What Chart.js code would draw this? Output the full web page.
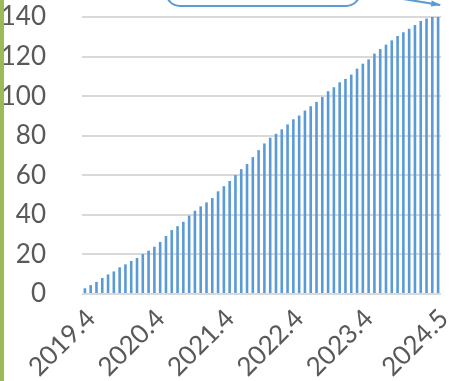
<!DOCTYPE html>
<html>
<head>
<meta charset="utf-8">
<script src="https://cdn.jsdelivr.net/npm/chart.js@4.4.1/dist/chart.umd.min.js"></script>
<style>
  html, body { margin: 0; padding: 0; background: #ffffff; overflow: hidden; }
  #wrap { width: 452px; height: 381px; position: relative; }
</style>
</head>
<body>
<div id="wrap"><canvas id="c" width="452" height="381"></canvas></div>
<script>
// Monthly categories, April 2019 to May 2024
const months = [
  "2019.4","2019.5","2019.6","2019.7","2019.8","2019.9","2019.10","2019.11","2019.12",
  "2020.1","2020.2","2020.3","2020.4","2020.5","2020.6","2020.7","2020.8","2020.9","2020.10","2020.11","2020.12",
  "2021.1","2021.2","2021.3","2021.4","2021.5","2021.6","2021.7","2021.8","2021.9","2021.10","2021.11","2021.12",
  "2022.1","2022.2","2022.3","2022.4","2022.5","2022.6","2022.7","2022.8","2022.9","2022.10","2022.11","2022.12",
  "2023.1","2023.2","2023.3","2023.4","2023.5","2023.6","2023.7","2023.8","2023.9","2023.10","2023.11","2023.12",
  "2024.1","2024.2","2024.3","2024.4","2024.5"
];

// Cumulative monthly totals
const counts = [
  2.9, 4.5, 6.1, 8.1, 9.9, 11.4, 13.5, 15.0, 16.7, 18.2,
  20.2, 21.9, 23.9, 26.3, 29.3, 32.3, 34.3, 36.5, 39.6, 42.1,
  44.3, 46.3, 48.5, 51.9, 54.5, 57.1, 60.1, 63.1, 65.7, 69.2,
  72.7, 76.1, 79.0, 81.0, 83.2, 85.7, 88.3, 90.2, 92.7, 94.9,
  97.1, 99.6, 102.5, 104.5, 107.0, 108.7, 110.9, 113.9, 116.4, 118.6,
  121.5, 123.8, 126.0, 128.2, 130.4, 132.3, 134.1, 136.0, 138.0, 139.2,
  140, 141
];

// Category labels printed under the axis
const shownLabels = ["2019.4", "2020.4", "2021.4", "2022.4", "2023.4", "2024.5"];

// Value axis range
const yMin = 0, yMax = 140, yStep = 20;

const BLUE = "#5B9BD5";
const TEXT = "#595959";
const FONT = { family: "Lato", size: 26 };

// Frame pieces: green edge strip, callout box and pointer arrow
const frame = {
  id: "frame",
  afterDraw(chart) {
    const ctx = chart.ctx;
    const area = chart.chartArea;
    const xs = chart.scales.x, ys = chart.scales.y;
    ctx.save();
    // green strip along the left edge
    ctx.fillStyle = "#9BBB59";
    ctx.fillRect(0, 0, 4, chart.height);
    // callout box, mostly above the top edge
    const bx0 = area.left + 84, bx1 = area.left + 278, by1 = 6, r = 14;
    ctx.strokeStyle = BLUE;
    ctx.lineWidth = 2;
    ctx.beginPath();
    ctx.moveTo(bx0, -40);
    ctx.lineTo(bx0, by1 - r);
    ctx.arcTo(bx0, by1, bx0 + r, by1, r);
    ctx.lineTo(bx1 - r, by1);
    ctx.arcTo(bx1, by1, bx1, by1 - r, r);
    ctx.lineTo(bx1, -40);
    ctx.stroke();
    // arrow pointing at the latest bar
    const last = counts.length - 1;
    const tx = xs.getPixelForValue(last) + 2;
    const ty = ys.getPixelForValue(yMax) - 12;
    const sx = tx - 37, sy = ty - 6;
    ctx.lineWidth = 2.2;
    ctx.beginPath();
    ctx.moveTo(sx, sy);
    ctx.lineTo(tx, ty);
    ctx.stroke();
    const ang = Math.atan2(ty - sy, tx - sx);
    ctx.fillStyle = BLUE;
    ctx.beginPath();
    ctx.moveTo(tx + 1, ty);
    ctx.lineTo(tx - 9 * Math.cos(ang) + 3 * Math.sin(ang), ty - 9 * Math.sin(ang) - 3 * Math.cos(ang));
    ctx.lineTo(tx - 9 * Math.cos(ang) - 3 * Math.sin(ang), ty - 9 * Math.sin(ang) + 3 * Math.cos(ang));
    ctx.closePath();
    ctx.fill();
    ctx.restore();
  }
};

new Chart(document.getElementById("c"), {
  type: "bar",
  data: {
    labels: months,
    datasets: [{
      data: counts,
      backgroundColor: BLUE,
      borderWidth: 0,
      categoryPercentage: 1.0,
      barPercentage: 0.45
    }]
  },
  options: {
    responsive: false,
    animation: false,
    devicePixelRatio: 1,
    layout: { padding: { top: 17, right: 11, bottom: 0, left: 0 } },
    plugins: { legend: { display: false }, tooltip: { enabled: false } },
    scales: {
      x: {
        grid: { display: false, drawTicks: false },
        border: { display: false },
        ticks: {
          autoSkip: false,
          minRotation: 45,
          maxRotation: 45,
          padding: 9,
          labelOffset: 6,
          color: TEXT,
          font: FONT,
          callback: (v, i) => shownLabels.includes(months[i]) ? months[i] : ""
        },
        afterFit: s => { s.height = 87; s.paddingLeft = 0; s.paddingRight = 0; }
      },
      y: {
        min: yMin,
        max: yMax,
        grid: { color: "#D9D9D9", lineWidth: 2, drawTicks: false },
        border: { display: false },
        ticks: { stepSize: yStep, padding: 36, color: TEXT, font: FONT },
        afterFit: s => { s.width = 82; s.paddingTop = 0; s.paddingBottom = 0; }
      }
    }
  },
  plugins: [frame]
});
</script>
</body>
</html>
